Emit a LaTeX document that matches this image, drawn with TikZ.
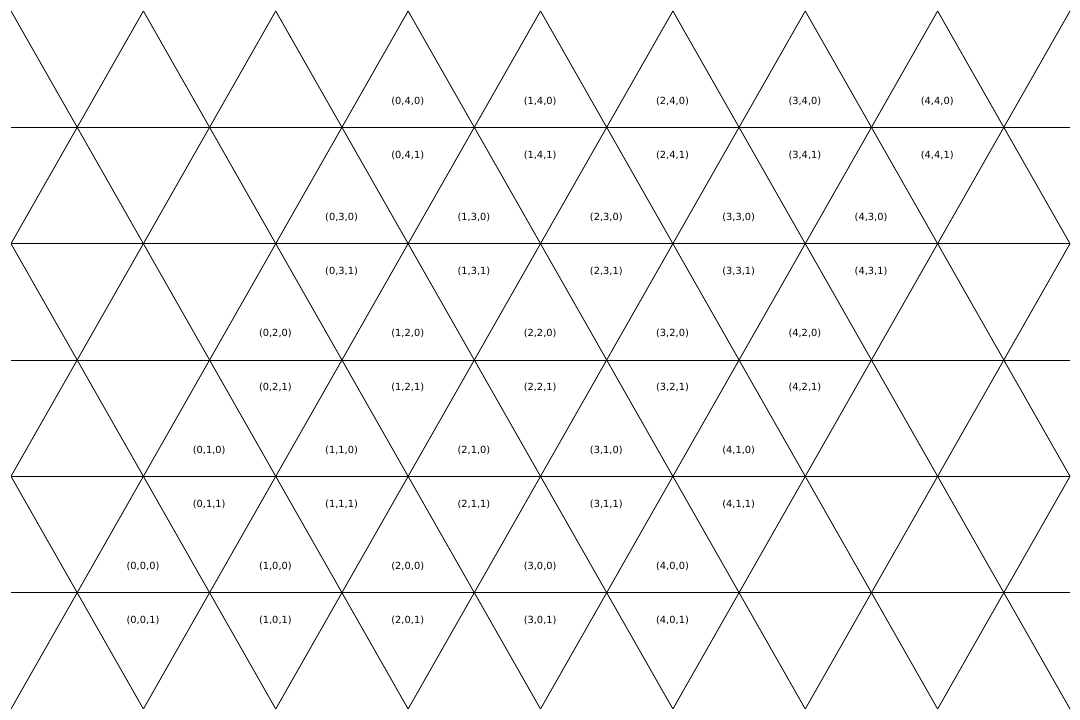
\documentclass[tikz,border=0pt]{standalone}
\usepackage{fontspec}
\setmainfont{DejaVu Sans}
\begin{document}
\begin{tikzpicture}[x=0.025cm,y=-0.025cm,
  grid/.style={black,line width=0.6pt},
  lbl/.style={font=\fontsize{7}{8}\selectfont, inner sep=0pt}]
\useasboundingbox (0,0) rectangle (1080,720);
\begin{scope}
\clip (11,11) rectangle (1070,709);
\foreach \r in {1,...,5} \draw[grid] (11,{11+116.333*\r}) -- (1070,{11+116.333*\r});
\foreach \k in {-4,...,12} {
  \draw[grid] ({11+132.375*\k},11) -- ({11+132.375*\k+397.125},709);
  \draw[grid] ({11+132.375*\k},11) -- ({11+132.375*\k-397.125},709);
}
\end{scope}
\foreach \i in {0,...,4} {
  \foreach \j in {0,...,4} {
    \node[lbl] (l\i\j0) at ({143+132.375*\i+66.1875*\j},{566.5-116.333*\j}) {(\i,\j,0)};
    \node[lbl] (l\i\j1) at ({143+132.375*\i+66.1875*\j},{620.5-116.333*\j}) {(\i,\j,1)};
  }
}
\end{tikzpicture}
\end{document}
